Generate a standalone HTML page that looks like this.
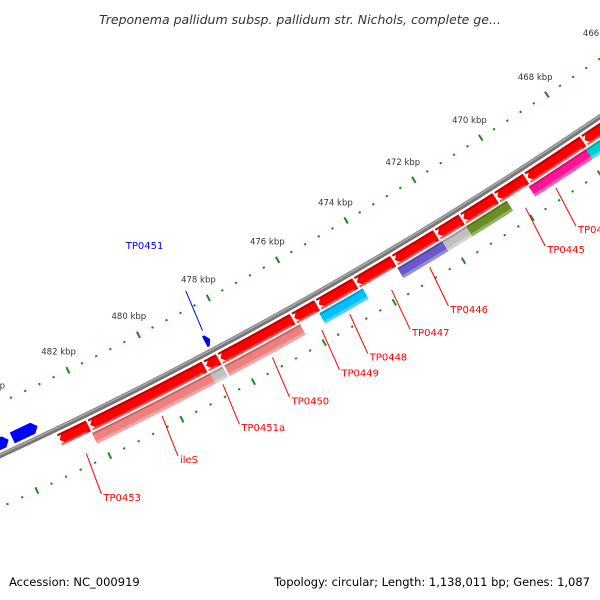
<!DOCTYPE html>
<html><head><meta charset="utf-8"><style>
html,body{margin:0;padding:0;background:#fff}
svg{display:block;font-family:"DejaVu Sans","Liberation Sans",sans-serif}
</style></head><body>
<svg id="map" width="600" height="600" viewBox="0 0 600 600" xmlns="http://www.w3.org/2000/svg">
<rect width="600" height="600" fill="#fff"/>
<text x="300" y="24" text-anchor="middle" font-size="12.5" font-style="italic" fill="#333">Treponema pallidum subsp. pallidum str. Nichols, complete ge...</text>
<g id="ticks"></g>
<g id="backbone"></g>
<g id="genes"></g>
<g id="labels"></g>
<text x="9" y="586" font-size="11.5" fill="#000">Accession: NC_000919</text>
<text x="590" y="586" text-anchor="end" font-size="11.5" fill="#000">Topology: circular; Length: 1,138,011 bp; Genes: 1,087</text>
</svg>
<script>
// data (kbp)
const majorTicks = [464,466,468,470,472,474,476,478,480,482,484,486];
const tickLabels = ["464 kbp","466 kbp","468 kbp","470 kbp","472 kbp","474 kbp","476 kbp","478 kbp","480 kbp","482 kbp","484 kbp","486 kbp"];
const revStart = [466.5,467.9,469.6,470.5,471.5,472.25,473.5,474.6,475.7,476.4,478.5,478.9,482.15];
const revEnd   = [467.85,469.55,470.45,471.45,472.2,473.45,474.55,475.65,476.35,478.45,478.85,482.1,482.95];
const cogStart = [466.5,467.95,470.3,471.5,472.2,474.5,476.3,478.5,478.85];
const cogEnd   = [467.95,469.65,471.5,472.2,473.5,475.75,478.45,478.85,482.15];
const cogColor = ["#00ced1","#ff1493","#6b8e23","#c0c0c0","#6a5acd","#00bfff","#f08080","#c0c0c0","#f08080"];
const fwdStart = [478.45,483.3,484.1];
const fwdEnd   = [478.6,484.0,485.2];
const labelNames = ["TP0444","TP0445","TP0446","TP0447","TP0448","TP0449","TP0450","TP0451a","ileS","TP0453","TP0451"];
const labelGene  = [469.1,470.0,472.8,473.9,475.1,475.9,477.3,478.7,480.4,482.5,478.52];

const NS="http://www.w3.org/2000/svg";
const CX=-1779, CY=-3393;
const RB=4240, RT=4192, RO=4287;
function ang(k){return (56.30+0.54*(k-468))*Math.PI/180;}
function pt(k,r){const a=ang(k);return [CX+r*Math.cos(a),CY+r*Math.sin(a)];}
function mk(tag,attrs,parent){const e=document.createElementNS(NS,tag);for(const k in attrs)e.setAttribute(k,attrs[k]);parent.appendChild(e);return e;}
function arcPath(k1,k2,r){const p1=pt(k1,r),p2=pt(k2,r);return `M${p1[0]},${p1[1]} A${r},${r} 0 0 1 ${p2[0]},${p2[1]}`;}
function band(k1,k2,r1,r2){const a=pt(k1,r1),b=pt(k2,r1),c=pt(k2,r2),d=pt(k1,r2);
 return `M${a[0]},${a[1]} A${r1},${r1} 0 0 1 ${b[0]},${b[1]} L${c[0]},${c[1]} A${r2},${r2} 0 0 0 ${d[0]},${d[1]} Z`;}
function arrow(k1,k2,r1,r2,dir){ // dir=1 tip at high kbp, -1 tip at low
 const h=Math.min(0.13,(k2-k1)*0.6), rm=(r1+r2)/2;
 if(dir===1){const a=pt(k1,r1),b=pt(k2-h,r1),t=pt(k2,rm),c=pt(k2-h,r2),d=pt(k1,r2);
  return `M${a[0]},${a[1]} A${r1},${r1} 0 0 1 ${b[0]},${b[1]} L${t[0]},${t[1]} L${c[0]},${c[1]} A${r2},${r2} 0 0 0 ${d[0]},${d[1]} Z`;}
 const a=pt(k1+h,r1),b=pt(k2,r1),c=pt(k2,r2),d=pt(k1+h,r2),t=pt(k1,rm);
 return `M${a[0]},${a[1]} A${r1},${r1} 0 0 1 ${b[0]},${b[1]} L${c[0]},${c[1]} A${r2},${r2} 0 0 0 ${d[0]},${d[1]} L${t[0]},${t[1]} Z`;}

// ticks
const tg=document.getElementById('ticks');
for(let i=0;i<majorTicks.length;i++){
 for(let j=0;j<5;j++){
  const k=majorTicks[i]+j*0.4, major=j===0, L=major?3.5:1;
  [RT,RO].forEach(r=>{const a=pt(k,r-L),b=pt(k,r+L);
   const e=mk('line',{x1:a[0],y1:a[1],x2:b[0],y2:b[1],stroke:'#1a8a1a','stroke-width':major?2:2.2},tg);
   
   });
 }
 const p=pt(majorTicks[i],RT-21);
 const t=mk('text',{x:p[0],y:p[1]+3,'text-anchor':'middle','font-size':'8.5',fill:'#333'},tg);
 t.textContent=tickLabels[i];
 
 
}
// backbone
const bg=document.getElementById('backbone');
mk('path',{d:arcPath(462,488,RB),stroke:'#777',fill:'none','stroke-width':5},bg);
mk('path',{d:arcPath(462,488,RB-1),stroke:'#aaa',fill:'none','stroke-width':1.5},bg);
// genes
const gg=document.getElementById('genes');
for(let i=0;i<revStart.length;i++){
 const g=mk('path',{d:arrow(revStart[i],revEnd[i],4245,4257,1),fill:'#ff0000'},gg);
 
 
 mk('path',{d:band(revStart[i]+0.03,revEnd[i],4245,4247),fill:'#c00000'},gg);
 mk('path',{d:band(revStart[i]+0.1,revEnd[i],4255,4257),fill:'#ff5050'},gg);
}
for(let i=0;i<cogStart.length;i++){
 const g=mk('path',{d:band(cogStart[i],cogEnd[i],4259,4271),fill:cogColor[i]},gg);
 
 
 mk('path',{d:band(cogStart[i],cogEnd[i],4259,4261),fill:'#000','fill-opacity':0.18},gg);
 mk('path',{d:band(cogStart[i],cogEnd[i],4268,4271),fill:'#fff','fill-opacity':0.3},gg);
}
for(let i=0;i<fwdStart.length;i++){
 const g=mk('path',{d:arrow(fwdStart[i],fwdEnd[i],4223,4235,-1),fill:'#0000ff'},gg);
 
 
}
// labels
const lg=document.getElementById('labels');
for(let i=0;i<labelNames.length;i++){
 const blue=i===labelNames.length-1;
 const r0=blue?4218:4275, r1=blue?4175:4318;
 const a=pt(labelGene[i],r0), b=pt(labelGene[i]+ (blue?-0.1:0.1), r1);
 const l=mk('line',{x1:a[0],y1:a[1],x2:b[0],y2:b[1],stroke:blue?'#0000ff':'#ff0000','stroke-width':1},lg);
 
 
 const t=mk('text',{x:blue?b[0]-60:b[0]+2,y:blue?b[1]-42:b[1]+7,'font-size':'10',fill:blue?'#0000ff':'#ff0000'},lg);
 t.textContent=labelNames[i];
 
 
}
</script>
</body></html>
